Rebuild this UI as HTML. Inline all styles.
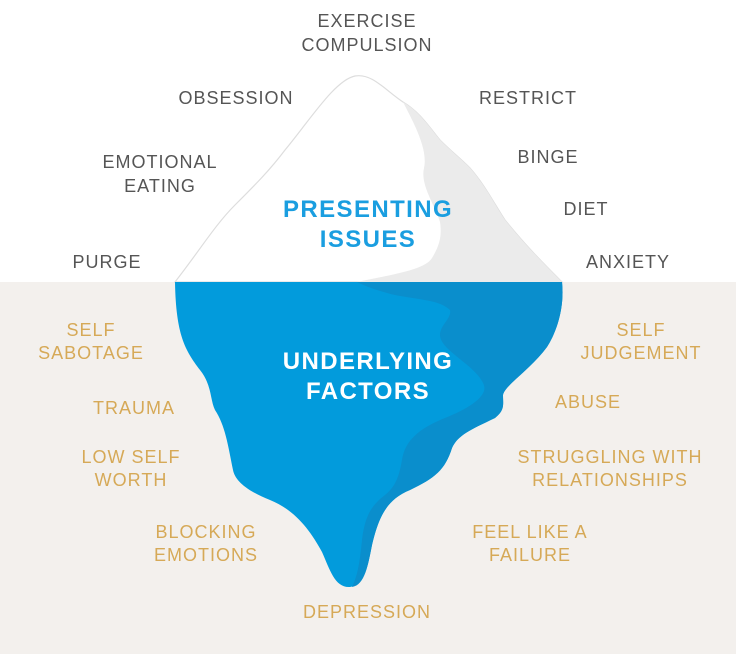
<!DOCTYPE html>
<html><head><meta charset="utf-8"><style>
html,body{margin:0;padding:0}
body{width:736px;height:654px;position:relative;overflow:hidden;background:#fff;font-family:"Liberation Sans",sans-serif}
.bg{position:absolute;left:0;top:282px;width:736px;height:372px;background:#f3f0ed}
svg{position:absolute;left:0;top:0}
.t{position:absolute;transform:translate(-50%,-50%);white-space:nowrap;font-size:18px;letter-spacing:1px;line-height:1;color:#555}
.g{color:#d6a957}
.b{font-weight:bold;font-size:24px;letter-spacing:1.4px}
</style></head><body>
<div class="bg"></div>
<svg width="736" height="654" viewBox="0 0 736 654">
<path d="M175,282 C200,250 215,225 235,205 C255,185 270,170 285,150 C310,120 335,80 355,76 C372,73 385,90 403,102 C420,112 430,128 440,140 C452,152 460,158 470,168 C485,185 495,205 505,220 C525,245 545,265 562,282 Z" fill="#fff" stroke="#ddd" stroke-width="1.2"/>
<path d="M403,102 C420,112 430,128 440,140 C452,152 460,158 470,168 C485,185 495,205 505,220 C525,245 545,265 562,282 L357,282 C390,275 425,270 432,258 C440,245 442,235 440,222 C435,205 420,185 424,168 C428,150 415,125 403,102 Z" fill="#ebebeb"/>
<path d="M175,282 L562,282 C565,310 555,335 547,347 C530,370 505,385 503,395 C503,405 505,410 495,418 C470,430 458,435 452,448 C445,470 435,478 410,490 C385,500 378,520 372,545 C368,565 365,585 350,587 C335,588 330,570 322,552 C310,530 295,510 270,500 C245,490 235,480 233,470 C228,445 225,425 215,410 C210,400 212,385 200,370 C185,350 176,335 175,282 Z" fill="#029bdc"/>
<path d="M357,282 L562,282 C565,310 555,335 547,347 C530,370 505,385 503,395 C503,405 505,410 495,418 C470,430 458,435 452,448 C445,470 435,478 410,490 C385,500 378,520 372,545 C368,565 365,585 352,587 C358,575 360,560 362,540 C365,515 372,505 385,495 C398,485 400,470 402,460 C405,440 420,428 445,418 C470,408 490,395 483,383 C475,365 440,350 440,335 C440,325 452,318 450,310 C440,300 420,300 395,295 C375,290 365,286 357,282 Z" fill="#0a8ecc"/>
</svg>
<div class="t" style="left:367px;top:21px">EXERCISE</div>
<div class="t" style="left:367px;top:45px">COMPULSION</div>
<div class="t" style="left:236px;top:98px">OBSESSION</div>
<div class="t" style="left:528px;top:98px">RESTRICT</div>
<div class="t" style="left:160px;top:162px">EMOTIONAL</div>
<div class="t" style="left:160px;top:186px">EATING</div>
<div class="t" style="left:548px;top:157px">BINGE</div>
<div class="t" style="left:586px;top:209px">DIET</div>
<div class="t" style="left:107px;top:262px">PURGE</div>
<div class="t" style="left:628px;top:262px">ANXIETY</div>
<div class="t b" style="left:368px;top:210px;color:#1a9ee0">PRESENTING</div>
<div class="t b" style="left:368px;top:240px;color:#1a9ee0">ISSUES</div>
<div class="t b" style="left:368px;top:362px;color:#fff">UNDERLYING</div>
<div class="t b" style="left:368px;top:392px;color:#fff">FACTORS</div>
<div class="t g" style="left:91px;top:330px">SELF</div>
<div class="t g" style="left:91px;top:353px">SABOTAGE</div>
<div class="t g" style="left:641px;top:330px">SELF</div>
<div class="t g" style="left:641px;top:353px">JUDGEMENT</div>
<div class="t g" style="left:134px;top:408px">TRAUMA</div>
<div class="t g" style="left:588px;top:402px">ABUSE</div>
<div class="t g" style="left:131px;top:457px">LOW SELF</div>
<div class="t g" style="left:131px;top:480px">WORTH</div>
<div class="t g" style="left:610px;top:457px">STRUGGLING WITH</div>
<div class="t g" style="left:610px;top:480px">RELATIONSHIPS</div>
<div class="t g" style="left:206px;top:532px">BLOCKING</div>
<div class="t g" style="left:206px;top:555px">EMOTIONS</div>
<div class="t g" style="left:530px;top:532px">FEEL LIKE A</div>
<div class="t g" style="left:530px;top:555px">FAILURE</div>
<div class="t g" style="left:367px;top:612px">DEPRESSION</div>
</body></html>
